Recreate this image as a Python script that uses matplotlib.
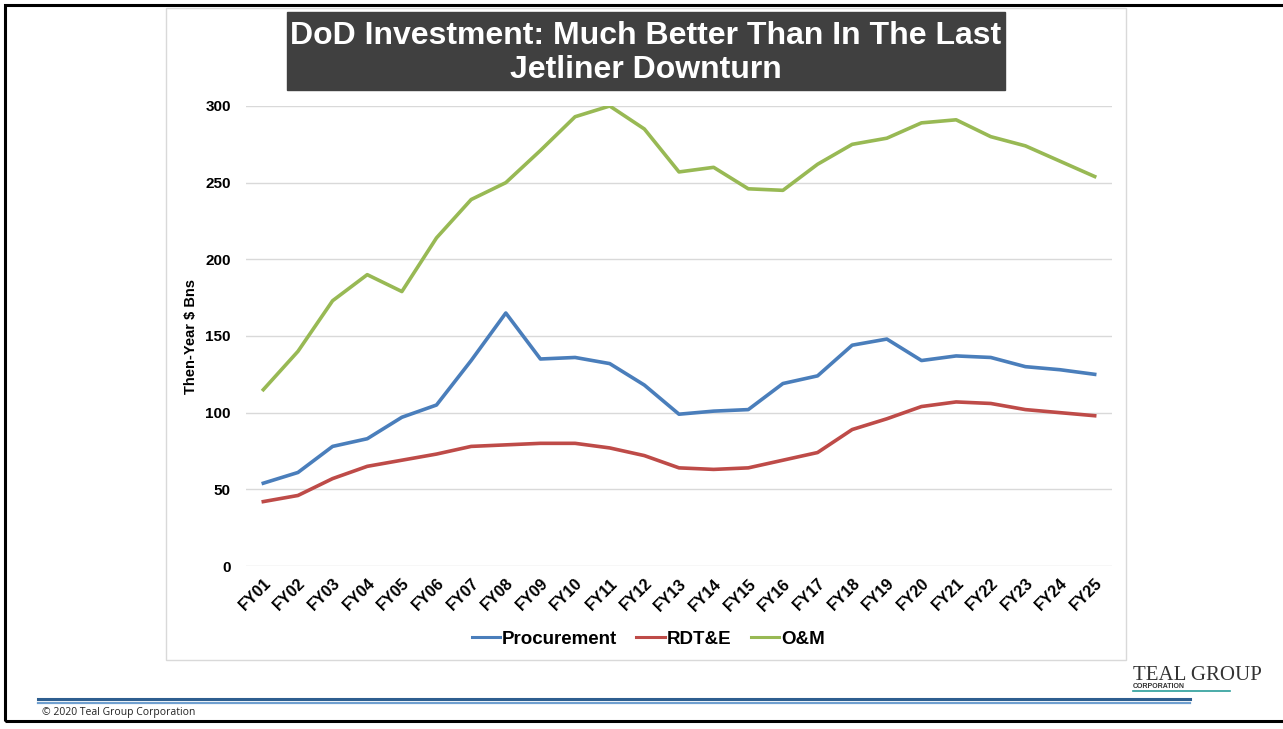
import matplotlib.pyplot as plt
from matplotlib.patches import Rectangle
from matplotlib.lines import Line2D

plt.rcParams['font.family'] = ['Liberation Sans', 'DejaVu Sans']

# Budget categories (then-year $ billions)
years = ['FY01', 'FY02', 'FY03', 'FY04', 'FY05', 'FY06', 'FY07', 'FY08', 'FY09',
         'FY10', 'FY11', 'FY12', 'FY13', 'FY14', 'FY15', 'FY16', 'FY17', 'FY18',
         'FY19', 'FY20', 'FY21', 'FY22', 'FY23', 'FY24', 'FY25']
procurement = [54, 61, 78, 83, 97, 105, 134, 165, 135, 136, 132, 118, 99, 101,
               102, 119, 124, 144, 148, 134, 137, 136, 130, 128, 125]
rdte = [42, 46, 57, 65, 69, 73, 78, 79, 80, 80, 77, 72, 64, 63, 64, 69, 74, 89,
        96, 104, 107, 106, 102, 100, 98]
om = [115, 140, 173, 190, 179, 214, 239, 250, 271, 293, 300, 285, 257, 260, 246,
      245, 262, 275, 279, 289, 291, 280, 274, 264, 254]

W, H = 1283, 729
fig = plt.figure(figsize=(W / 100, H / 100), dpi=100)


def fx(px):
    return px / W


def fy(py):
    return 1 - py / H


# slide frame and chart box
fig.patches.append(Rectangle((fx(5), fy(721)), fx(1290) - fx(5), fy(5) - fy(721),
                             transform=fig.transFigure, fill=False,
                             edgecolor='black', linewidth=2.2))
fig.patches.append(Rectangle((fx(166), fy(660)), fx(1126) - fx(166), fy(8) - fy(660),
                             transform=fig.transFigure, fill=False,
                             edgecolor='#d9d9d9', linewidth=1))

ax = fig.add_axes([fx(246), fy(566), fx(1112) - fx(246), fy(106) - fy(566)])
x = list(range(len(years)))
ax.plot(x, procurement, color='#4a7ebb', lw=2.6, label='Procurement')
ax.plot(x, rdte, color='#be4b48', lw=2.6, label='RDT&E')
ax.plot(x, om, color='#98b954', lw=2.6, label='O&M')

ax.set_xlim(-0.5, len(years) - 0.5)
ax.set_ylim(0, 300)
ax.set_yticks(range(0, 301, 50))
ax.set_xticks(x)
ax.set_xticklabels(years, rotation=45, ha='right', rotation_mode='anchor',
                   fontsize=11.5, fontweight='bold')
for lab in ax.get_yticklabels():
    lab.set_fontweight('bold')
    lab.set_fontsize(11)
ax.tick_params(axis='y', length=0, pad=11)
ax.tick_params(axis='x', length=0, pad=7)
ax.grid(axis='y', color='#d9d9d9', lw=1)
ax.set_axisbelow(True)
for s in ax.spines.values():
    s.set_visible(False)
ax.set_ylabel('Then-Year $ Bns', fontsize=10.5, fontweight='bold', labelpad=5)

leg = fig.legend(loc='center', bbox_to_anchor=(fx(648), fy(639)), ncol=3,
                 frameon=False, prop={'weight': 'bold', 'size': 13.5},
                 handlelength=1.5, handletextpad=0.1, columnspacing=1.05)
for h in leg.get_lines():
    h.set_linewidth(2.2)

# title banner
fig.patches.append(Rectangle((fx(287), fy(90)), fx(1005) - fx(287), fy(12) - fy(90),
                             transform=fig.transFigure, color='#404040'))
fig.text(fx(646), fy(53), 'DoD Investment: Much Better Than In The Last\nJetliner Downturn',
         color='white', fontsize=23, fontweight='bold', ha='center', va='center',
         linespacing=1.2)

# footer rules
fig.add_artist(Line2D([fx(38), fx(1190)], [fy(699), fy(699)], color='#2e5e8f', lw=2.2))
fig.add_artist(Line2D([fx(38), fx(1190)], [fy(702.5), fy(702.5)], color='#6f9fcf', lw=1.6))
fig.text(fx(42), fy(712), '\u00a9 2020 Teal Group Corporation', fontsize=7.5,
         family=['Open Sans', 'DejaVu Sans'], va='center', ha='left', color='#222222')

# logo
fig.text(fx(1133), fy(675), 'TEAL GROUP', fontsize=15, family=['Liberation Serif'],
         va='center', ha='left', color='#333333')
fig.text(fx(1133), fy(686), 'CORPORATION', fontsize=5, va='center', ha='left',
         color='#333333', fontweight='bold')
fig.add_artist(Line2D([fx(1133), fx(1230)], [fy(691), fy(691)], color='#2a9d9a', lw=1.2))

fig.savefig('out.png', dpi=100)
